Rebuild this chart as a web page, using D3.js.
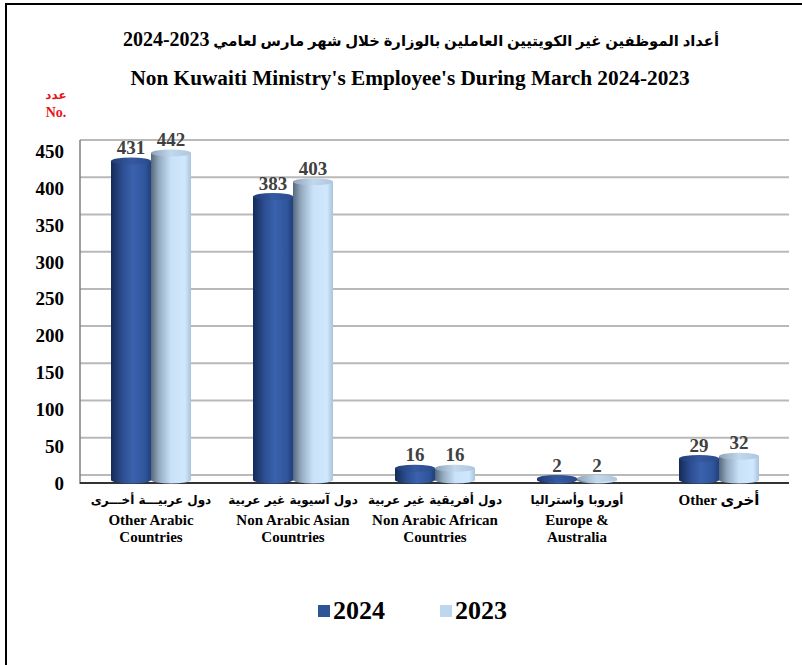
<!DOCTYPE html>
<html>
<head>
<meta charset="utf-8">
<script src="https://cdn.jsdelivr.net/npm/d3@7"></script>
<style>
  body { margin: 0; background: #fff; }
  svg text { font-family: "Liberation Serif", "Times New Roman", "DejaVu Sans", serif; font-weight: bold; }
</style>
</head>
<body>
<svg id="chart" width="802" height="665"></svg>
<script>
// data
var categories = ["Other Arabic Countries", "Non Arabic Asian Countries", "Non Arabic African Countries", "Europe & Australia", "Other"];
var arabicLabels = ["دول عربيـــة أخـــرى", "دول آسيوية غير عربية", "دول أفريقية غير عربية", "أوروبا وأستراليا", ""];
var englishLines = [["Other Arabic", "Countries"], ["Non Arabic Asian", "Countries"], ["Non Arabic African", "Countries"], ["Europe &", "Australia"], ["Other  أخرى"]];
var years = ["2024", "2023"];
var values2024 = [431, 383, 16, 2, 29];
var values2023 = [442, 403, 16, 2, 32];
var yTicks = [0, 50, 100, 150, 200, 250, 300, 350, 400, 450];

var titleAr = "أعداد الموظفين غير الكويتيين العاملين بالوزارة خلال شهر مارس لعامي ";
var titleArYears = "2024-2023";
var titleEn = "Non Kuwaiti Ministry's Employee's During March 2024-2023";

var svg = d3.select("#chart");

// outer frame
svg.append("rect")
    .attr("x", 6).attr("y", 4)
    .attr("width", 820).attr("height", 700)
    .attr("fill", "none").attr("stroke", "#000").attr("stroke-width", 2);

// titles
var tAr = svg.append("text")
    .attr("x", 421).attr("y", 46)
    .attr("text-anchor", "middle")
    .attr("direction", "rtl")
    .style("font-size", "14.8px");
tAr.append("tspan").text(titleAr);
tAr.append("tspan").style("font-family", "Liberation Serif").style("font-size", "20px")
    .attr("unicode-bidi", "embed").attr("direction", "ltr").text(titleArYears);
svg.append("text")
    .attr("x", 410).attr("y", 85)
    .attr("text-anchor", "middle")
    .style("font-size", "21.3px")
    .text(titleEn);

// unit label
svg.append("text").attr("x", 56).attr("y", 99).attr("text-anchor", "middle")
    .attr("fill", "#e8141a").style("font-size", "12px").style("font-family", "DejaVu Sans").text("عدد");
svg.append("text").attr("x", 56).attr("y", 117).attr("text-anchor", "middle")
    .attr("fill", "#e8141a").style("font-size", "14px").text("No.");

// scales
var x0 = d3.scaleBand().domain(categories).range([80, 790]).padding(0);
var x1 = d3.scaleBand().domain(years).range([31, 111]).padding(0);
var yBack = d3.scaleLinear().domain([0, 450]).range([475, 140]);
var yFront = d3.scaleLinear().domain([0, 450]).range([483, 151.5]);
var yBar = d3.scaleLinear().domain([0, 450]).range([480, 147]);

// gradients for the cylinders
var defs = svg.append("defs");
function grad(id, stops) {
    var g = defs.append("linearGradient").attr("id", id)
        .attr("x1", "0%").attr("x2", "100%").attr("y1", "0%").attr("y2", "0%");
    stops.forEach(function (s) {
        g.append("stop").attr("offset", s[0]).attr("stop-color", s[1]);
    });
}
grad("g2024", [["0%", "#142b57"], ["30%", "#2d4f93"], ["55%", "#3a62ad"], ["85%", "#2f559c"], ["100%", "#213f7a"]]);
grad("g2023", [["0%", "#56687c"], ["20%", "#93a9bf"], ["50%", "#c9e2f8"], ["85%", "#cfe8fd"], ["100%", "#a9c3dc"]]);
grad("t2024", [["0%", "#1f3c74"], ["50%", "#3559a0"], ["100%", "#2a4b8c"]]);
grad("t2023", [["0%", "#8ea3b8"], ["50%", "#c2d8ec"], ["100%", "#aec6de"]]);

// grid lines (back wall)
svg.append("g").selectAll("line").data(yTicks).enter().append("line")
    .attr("x1", 80).attr("x2", 789)
    .attr("y1", function (d) { return yBack(d); })
    .attr("y2", function (d) { return yBack(d); })
    .attr("stroke", "#b9b9b9").attr("stroke-width", 2);

// left wall & floor
svg.append("line").attr("x1", 80).attr("x2", 80).attr("y1", 140).attr("y2", 484)
    .attr("stroke", "#7f7f7f").attr("stroke-width", 1.5);
svg.append("line").attr("x1", 80).attr("x2", 789).attr("y1", 483).attr("y2", 483)
    .attr("stroke", "#333").attr("stroke-width", 2);

// y axis labels
var yAxis = d3.axisLeft(yFront).tickValues(yTicks).tickSize(0).tickPadding(16);
var gy = svg.append("g").attr("transform", "translate(80,0)").call(yAxis);
gy.select(".domain").remove();
gy.selectAll("text")
    .style("font-size", "19px")
    .style("font-family", "Liberation Serif")
    .attr("fill", "#000");

// bars as cylinders
var rows = categories.map(function (c, i) {
    return { cat: c, vals: [{ key: "2024", v: values2024[i] }, { key: "2023", v: values2023[i] }] };
});
var ry = 3.5;
var groups = svg.append("g").selectAll("g").data(rows).enter().append("g")
    .attr("transform", function (d) { return "translate(" + x0(d.cat) + ",0)"; });

var bars = groups.selectAll("g").data(function (d) { return d.vals; }).enter().append("g");
bars.append("path")
    .attr("fill", function (d) { return "url(#g" + d.key + ")"; })
    .attr("d", function (d) {
        var xl = x1(d.key), w = x1.bandwidth(), yt = yBar(d.v), yb = yBar(0);
        return "M" + xl + "," + yt + "L" + xl + "," + yb +
            "A" + (w / 2) + "," + ry + " 0 0 0 " + (xl + w) + "," + yb +
            "L" + (xl + w) + "," + yt + "Z";
    });
bars.append("ellipse")
    .attr("cx", function (d) { return x1(d.key) + x1.bandwidth() / 2; })
    .attr("cy", function (d) { return yBar(d.v); })
    .attr("rx", x1.bandwidth() / 2)
    .attr("ry", ry)
    .attr("fill", function (d) { return "url(#t" + d.key + ")"; });

// value labels
bars.append("text")
    .attr("x", function (d) { return x1(d.key) + x1.bandwidth() / 2; })
    .attr("y", function (d) { return yBar(d.v) - 7; })
    .attr("text-anchor", "middle")
    .attr("fill", "#404040")
    .style("font-size", "19px")
    .text(function (d) { return d.v; });

// category labels
var labels = svg.append("g").selectAll("g").data(categories).enter().append("g")
    .attr("transform", function (d) { return "translate(" + (x0(d) + x0.bandwidth() / 2) + ",0)"; });
labels.append("text")
    .attr("y", 504)
    .attr("text-anchor", "middle")
    .attr("direction", "rtl")
    .style("font-size", "12px")
    .style("font-family", "DejaVu Sans")
    .text(function (d, i) { return arabicLabels[i]; });
labels.each(function (d, i) {
    var g = d3.select(this);
    var lines = englishLines[i];
    lines.forEach(function (t, j) {
        g.append("text")
            .attr("y", lines.length === 1 ? 505 : 525 + j * 17)
            .attr("text-anchor", "middle")
            .style("font-size", "15px")
            .text(t);
    });
});

// legend
var legend = svg.append("g").selectAll("g").data(years).enter().append("g")
    .attr("transform", function (d, i) { return "translate(" + (318 + i * 122) + ",605)"; });
legend.append("rect").attr("width", 12).attr("height", 12)
    .attr("fill", function (d) { return d === "2024" ? "#2e5597" : "#bdd7ee"; });
legend.append("text").attr("x", 15).attr("y", 14)
    .style("font-size", "26px")
    .text(function (d) { return d; });
</script>
</body>
</html>
